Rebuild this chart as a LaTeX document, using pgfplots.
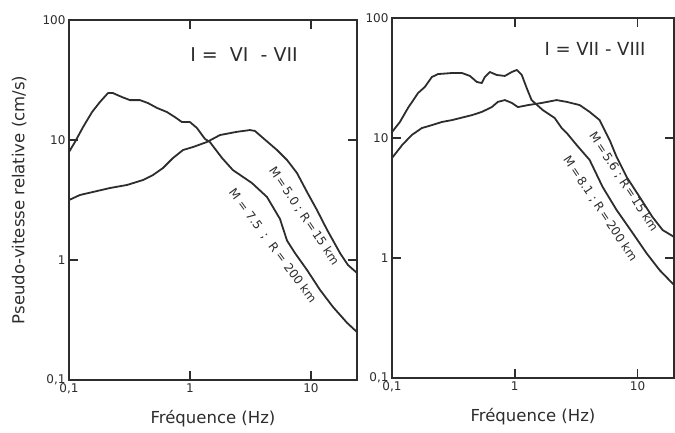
\documentclass[border=0pt]{standalone}
\usepackage{fontspec}
\setmainfont{DejaVu Sans}
\usepackage{pgfplots}
\pgfplotsset{compat=1.18}

\definecolor{ink}{RGB}{45,45,45}

\tikzset{
  spcurve/.style={ink, line width=1.8pt, line join=round},
  splabel/.style={font=\fontsize{12}{14}\selectfont, text=ink},
}

\begin{document}
\begin{tikzpicture}
\useasboundingbox (0pt,0pt) rectangle (675pt,433pt);

% left panel: I = VI - VII
\begin{axis}[
    at={(69pt,53pt)}, anchor=south west,
    xmode=log, ymode=log,
    scale only axis, width=288pt, height=360pt,
    xmin=0.1, xmax=24, ymin=0.1, ymax=100,
    xtick={0.1,1,10}, xticklabels={{0,1},1,10},
    ytick={0.1,1,10,100}, yticklabels={{0,1},1,10,100},
    major tick length=8pt,
    minor tick style={draw=none},
    axis line style={line width=1.4pt, ink},
    tick style={line width=1.4pt, ink},
    ticklabel style={font=\fontsize{12}{14}\selectfont, text=ink},
    xlabel={Fréquence (Hz)}, ylabel={Pseudo-vitesse relative (cm/s)},
    every axis x label/.style={at={(axis description cs:0.5,-0.108)}, anchor=center,
      font=\fontsize{16.5}{18}\selectfont, text=ink},
    every axis y label/.style={at={(axis description cs:-0.173,0.5)}, rotate=90, anchor=center,
      font=\fontsize{16.5}{18}\selectfont, text=ink},
]
  % M = 7.5 ; R = 200 km
  \addplot[spcurve] coordinates {
    (0.1,7.94) (0.112,9.62) (0.1306,12.8) (0.155,17.1) (0.180,20.7) (0.210,24.6)
    (0.231,24.6) (0.274,22.8) (0.319,21.5) (0.386,21.5) (0.450,20.3) (0.534,18.5)
    (0.645,17.1) (0.752,15.5) (0.859,14.1) (1.0,14.1) (1.14,12.6) (1.33,10.2)
    (1.46,9.62) (1.84,7.08) (2.26,5.62) (3.25,4.38) (4.33,3.35) (5.54,2.20)
    (6.34,1.45) (7.38,1.14) (9.27,0.826) (11.9,0.562) (15.2,0.406) (19.9,0.299)
    (24.0,0.251)};
  % M = 5.0 ; R = 15 km
  \addplot[spcurve] coordinates {
    (0.1,3.16) (0.123,3.48) (0.158,3.69) (0.218,3.98) (0.302,4.22) (0.409,4.64)
    (0.495,5.11) (0.598,5.84) (0.724,7.08) (0.875,8.25) (1.06,8.74) (1.38,9.62)
    (1.77,11.0) (2.44,11.7) (3.13,12.1) (3.44,11.9) (4.01,10.4) (5.24,8.25)
    (6.34,6.81) (7.66,5.31) (9.27,3.69) (11.2,2.61) (13.6,1.78) (17.4,1.14)
    (20.2,0.908) (24.0,0.780)};
  \node[splabel, rotate=-56] at (axis cs:8.75,2.33) {M\,=\,5.0 ; R\,=\,15 km};
  \node[splabel, rotate=-53.4] at (axis cs:4.81,1.31) {M = 7.5\ \ ;\ \ R = 200 km};
\end{axis}

% right panel: I = VII - VIII
\begin{axis}[
    at={(392pt,55pt)}, anchor=south west,
    xmode=log, ymode=log,
    scale only axis, width=282pt, height=360pt,
    xmin=0.1, xmax=19.8, ymin=0.1, ymax=100,
    xtick={0.1,1,10}, xticklabels={{0,1},1,10},
    ytick={0.1,1,10,100}, yticklabels={{0,1},1,10,100},
    major tick length=8pt,
    minor tick style={draw=none},
    axis line style={line width=1.4pt, ink},
    tick style={line width=1.4pt, ink},
    ticklabel style={font=\fontsize{12}{14}\selectfont, text=ink},
    xlabel={Fréquence (Hz)},
    every axis x label/.style={at={(axis description cs:0.5,-0.108)}, anchor=center,
      font=\fontsize{16.5}{18}\selectfont, text=ink},
]
  % M = 8.1 ; R = 200 km
  \addplot[spcurve] coordinates {
    (0.1,11.2) (0.116,13.6) (0.135,17.8) (0.163,23.7) (0.185,26.6) (0.211,32.2)
    (0.237,34.1) (0.308,34.8) (0.371,34.8) (0.431,32.9) (0.491,29.3) (0.539,28.7)
    (0.570,32.2) (0.626,35.5) (0.714,33.5) (0.830,32.9) (0.946,35.5) (1.04,36.9)
    (1.14,33.5) (1.25,26.1) (1.37,20.7) (1.69,17.1) (2.11,14.7) (2.41,12.1)
    (2.65,11.0) (3.19,8.74) (4.07,6.56) (5.19,3.91) (6.75,2.51) (9.10,1.62)
    (11.8,1.10) (15.1,0.794) (19.8,0.596)};
  % M = 5.6 ; R = 15 km
  \addplot[spcurve] coordinates {
    (0.1,6.81) (0.121,8.74) (0.145,10.6) (0.175,12.1) (0.211,12.8) (0.255,13.6)
    (0.308,14.1) (0.392,15.0) (0.447,15.5) (0.539,16.5) (0.650,18.1) (0.728,20.0)
    (0.830,20.7) (0.946,19.6) (1.06,18.1) (1.28,18.8) (1.66,19.6) (2.19,20.7)
    (2.65,20.0) (3.38,18.8) (4.07,16.5) (4.91,14.1) (5.92,9.62) (6.75,6.95)
    (8.15,4.73) (10.4,3.22) (13.2,2.20) (16.0,1.71) (19.8,1.50)};
  \node[splabel, rotate=-56.8] at (axis cs:7.69,4.30) {M\,=\,5.6 ;\ R\,=\,15 km};
  \node[splabel, rotate=-56.4] at (axis cs:4.96,2.56) {M\,=\,8.1 ; R\,=\,200 km};
\end{axis}

% inward decade ticks of both frames
\draw[ink, line width=1.6pt]
  (190pt,53pt) -- (190pt,62pt)  (311pt,53pt) -- (311pt,62pt)
  (190pt,413pt) -- (190pt,404pt) (311pt,413pt) -- (311pt,404pt)
  (69pt,173pt) -- (78pt,173pt)  (69pt,293pt) -- (78pt,293pt)
  (357pt,173pt) -- (348pt,173pt) (357pt,293pt) -- (348pt,293pt)
  (514.8pt,55pt) -- (514.8pt,64pt) (637.6pt,55pt) -- (637.6pt,64pt)
  (514.8pt,415pt) -- (514.8pt,406pt) (637.6pt,415pt) -- (637.6pt,406pt)
  (392pt,175pt) -- (401pt,175pt) (392pt,295pt) -- (401pt,295pt)
  (674pt,175pt) -- (665pt,175pt) (674pt,295pt) -- (665pt,295pt);

\node[font=\fontsize{19}{22}\selectfont, text=ink] at (244pt,378pt) {I =\ \ VI\ \ - VII};
\node[font=\fontsize{18}{22}\selectfont, text=ink] at (595pt,384pt) {I = VII - VIII};
\end{tikzpicture}
\end{document}
